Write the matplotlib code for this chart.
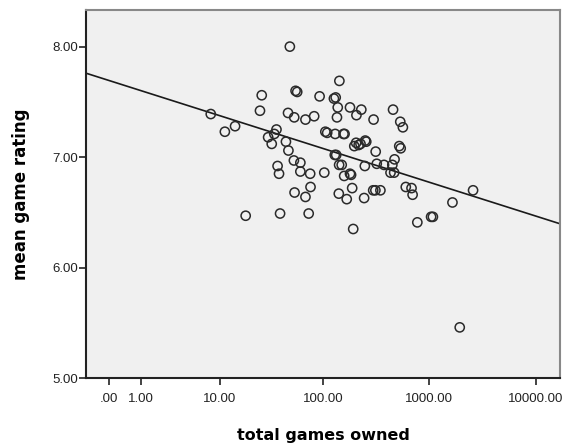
import numpy as np
import matplotlib
matplotlib.use("Agg")
import matplotlib.pyplot as plt
from matplotlib.ticker import FixedLocator, FuncFormatter

# total games owned / mean game rating
games_owned = [
    48.5, 143, 26, 55, 57, 93, 127, 132, 180, 230, 457, 138, 25, 8.0, 46.6,
    53.4, 68.3, 82.6, 135.7, 207, 300, 534, 565, 14.2, 11.2, 36.1, 30, 32.5,
    34.4, 105.4, 109.7, 130.5, 156.4, 160, 205.5, 197.6, 217.3, 226, 250.3,
    256, 522.5, 539, 44.5, 47, 129.4, 133.5, 314, 53, 61.1, 472, 450, 37,
    38.2, 61.1, 75.7, 103, 142.2, 150.4, 158.7, 180, 184.3, 248.3, 321.3,
    375.9, 432.6, 468, 53.8, 68.3, 76.3, 141.2, 167.7, 188.7, 244.5, 297.5,
    311.9, 347.7, 601.6, 681, 697, 18.1, 39.1, 73.3, 193, 772, 1039, 1080,
    1647, 2569, 1927,
]
mean_rating = [
    8.00, 7.69, 7.56, 7.60, 7.59, 7.55, 7.53, 7.54, 7.45, 7.43, 7.43, 7.45,
    7.42, 7.39, 7.40, 7.36, 7.34, 7.37, 7.36, 7.38, 7.34, 7.32, 7.27, 7.28,
    7.23, 7.25, 7.18, 7.12, 7.21, 7.23, 7.22, 7.21, 7.21, 7.21, 7.13, 7.10,
    7.11, 7.12, 7.15, 7.14, 7.10, 7.08, 7.14, 7.06, 7.02, 7.02, 7.05, 6.97,
    6.95, 6.98, 6.93, 6.92, 6.85, 6.87, 6.85, 6.86, 6.93, 6.93, 6.83, 6.85,
    6.84, 6.92, 6.94, 6.93, 6.86, 6.86, 6.68, 6.64, 6.73, 6.67, 6.62, 6.72,
    6.63, 6.70, 6.70, 6.70, 6.73, 6.72, 6.66, 6.47, 6.49, 6.49, 6.35, 6.41,
    6.46, 6.46, 6.59, 6.70, 5.46,
]

# fit line: rating = a + b * safe_log10(games)
fit_intercept = 7.694
fit_slope = -0.307

x_ticks = [0, 1, 10, 100, 1000, 10000]
y_ticks = [5, 6, 7, 8]


def safe_log(x):
    x = np.asarray(x, dtype=float)
    return np.sign(x) * np.log10(1 + np.abs(x))


def safe_exp(t):
    t = np.asarray(t, dtype=float)
    return np.sign(t) * (10 ** np.abs(t) - 1)


def spss_fmt(v, pos=None):
    s = f"{v:.2f}"
    if s.startswith("0."):
        s = s[1:]
    return s


fig = plt.figure(figsize=(5.66, 4.46), dpi=100)
ax = fig.add_axes([0.152, 0.152, 0.838, 0.826])
ax.set_facecolor("#f0f0f0")

ax.set_xscale("function", functions=(safe_log, safe_exp))
ax.set_xlim(-0.635, 16866)
ax.set_ylim(5, 8.333)

ax.scatter(games_owned, mean_rating, s=44, facecolors="none",
           edgecolors="#2a2a2a", linewidths=1.1, zorder=3)

xl = np.array(ax.get_xlim())
ax.plot(xl, fit_intercept + fit_slope * safe_log(xl), color="#1a1a1a",
        lw=1.2, zorder=2)

ax.xaxis.set_major_locator(FixedLocator(x_ticks))
ax.xaxis.set_minor_locator(FixedLocator([]))
ax.xaxis.set_major_formatter(FuncFormatter(spss_fmt))
ax.yaxis.set_major_locator(FixedLocator(y_ticks))
ax.yaxis.set_major_formatter(FuncFormatter(spss_fmt))

for side in ["top", "right"]:
    ax.spines[side].set_color("#888888")
    ax.spines[side].set_linewidth(1.5)
for side in ["left", "bottom"]:
    ax.spines[side].set_color("#222222")
    ax.spines[side].set_linewidth(1.5)

ax.tick_params(axis="both", direction="out", length=5, width=1.2,
               color="#222222", labelsize=9.5, labelcolor="#222222",
               labelfontfamily="Liberation Sans")
ax.tick_params(axis="x", pad=6)
ax.tick_params(axis="y", pad=1)

ax.set_xlabel("total games owned", fontsize=11.5, fontweight="bold",
              labelpad=16)
ax.set_ylabel("mean game rating", fontsize=12, fontweight="bold",
              labelpad=16)

fig.savefig("out.png", dpi=100)
